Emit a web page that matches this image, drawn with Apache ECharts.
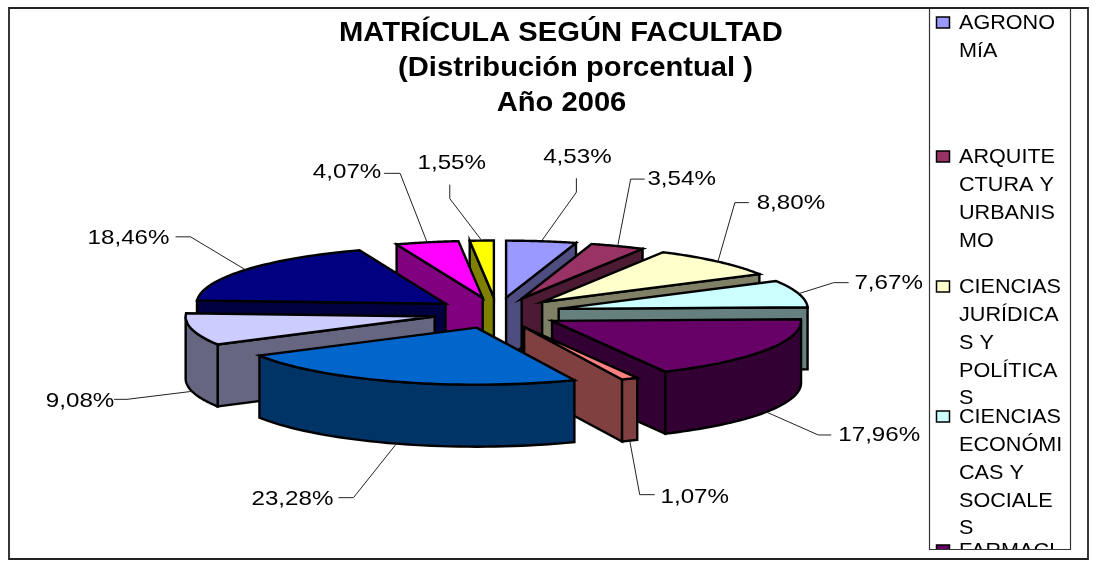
<!DOCTYPE html>
<html><head><meta charset="utf-8">
<style>html,body{margin:0;padding:0;background:#fff}#c{width:1096px;height:562px}</style>
<script src="https://cdn.jsdelivr.net/npm/echarts@6/dist/echarts.min.js"></script>
</head><body><div id="c"></div>
<script>
const categories = ['AGRONOMÍA','ARQUITECTURA Y URBANISMO','CIENCIAS JURÍDICAS Y POLÍTICAS','CIENCIAS ECONÓMICAS Y SOCIALES','FARMACIA','FILOSOFÍA','DERECHO','INGENIERÍA','MEDICINA','ODONTOLOGÍA','QUÍMICA'];
const values = [4.53,3.54,8.80,7.67,17.96,1.07,23.28,9.08,18.46,4.07,1.55];
const valueLabels = ['4,53%','3,54%','8,80%','7,67%','17,96%','1,07%','23,28%','9,08%','18,46%','4,07%','1,55%'];
const topColors = ['#9999FF','#993366','#FFFFCC','#CCFFFF','#660066','#FF8080','#0066CC','#CCCCFF','#000080','#FF00FF','#FFFF00'];
const wallColors = ['#4D4D80','#4D1A33','#808066','#668080','#330033','#804040','#003366','#666680','#000040','#800080','#808000'];
const legendLines = [['AGRONO','MíA'],['ARQUITE','CTURA Y','URBANIS','MO'],['CIENCIAS','JURÍDICA','S Y','POLÍTICA','S'],['CIENCIAS','ECONÓMI','CAS Y','SOCIALE','S'],['FARMACI','A']];
const titleLines = ['MATRÍCULA SEGÚN FACULTAD','(Distribución porcentual )','Año 2006'];

// layout of the projected pie
const CX=497, CY=313, RX=249, RY=57, DEPTH=62, EXPX=64, EXPY=15.5;
// leader layout, relative to the rim point at each slice's middle: elbow dx,dy, then stub dx,dy, then label centre dx,dy
const leaderLayout = [
 [35,-49, 35,-63, 36,-84],
 [13,-67, 27,-67, 64,-67],
 [17,-59, 31,-59, 73,-58],
 [35,-11, 50,-11, 90,-10],
 [52,23, 65,23, 113,23],
 [10,54, 25,54, 65,57],
 [-43,54, -58,54, -104,56],
 [-65,8, -78,8, -112,10],
 [-55,-33, -70,-33, -117,-32],
 [-27,-69, -43,-69, -80,-70],
 [-32,-42, -32,-56, -30,-77]
];
const titleLayout = [[561,34],[575.5,69],[561.5,104]];

const total = values.reduce((a,b)=>a+b,0);
let acc = 0;
const rows = values.map((v,i)=>{const s=acc/total*360; acc+=v; const e=acc/total*360; return [s,e,v,i];});
const backness = r=>{const m=(r[0]+r[1])/2; return Math.min(m,360-m);};
rows.sort((a,b)=>backness(a)-backness(b));

const rad=d=>d*Math.PI/180;
function renderItem(params,api){
  const s=api.value(0), e=api.value(1), i=api.value(3), m=(s+e)/2;
  const ax=CX+EXPX*Math.sin(rad(m)), ay=CY-EXPY*Math.cos(rad(m));
  const rim=a=>[ax+RX*Math.sin(rad(a)), ay-RY*Math.cos(rad(a))];
  const down=p=>[p[0],p[1]+DEPTH];
  const st={stroke:'#000',lineWidth:2.4,lineJoin:'miter'};
  const kids=[];
  const poly=(pts,fill)=>kids.push({type:'polygon',shape:{points:pts},style:Object.assign({fill},st)});
  const wall=a=>{const p=rim(a);poly([[ax,ay],p,down(p),[ax,ay+DEPTH]],wallColors[i]);};
  if(Math.sin(rad(s))<-1e-6) wall(s);
  if(Math.sin(rad(e))>1e-6) wall(e);
  const a0=Math.max(s,90), a1=Math.min(e,270);
  if(a1>a0){
    const up=[]; for(let a=a0;a<=a1+1e-6;a+=(a1-a0)/40) up.push(rim(a));
    poly(up.concat(up.slice().reverse().map(down)),wallColors[i]);
  }
  const top=[[ax,ay]]; for(let a=s;a<=e+1e-6;a+=(e-s)/40) top.push(rim(a));
  poly(top,topColors[i]);
  const p=rim(m); const anchor=Math.cos(rad(m))<0?down(p):p;
  const L=leaderLayout[i];
  kids.push({type:'polyline',z2:50,shape:{points:[anchor,[anchor[0]+L[0],anchor[1]+L[1]],[anchor[0]+L[2],anchor[1]+L[3]]]},style:{stroke:'#222',lineWidth:1,fill:null}});
  kids.push({type:'text',z2:51,x:anchor[0]+L[4],y:anchor[1]+L[5],scaleX:1.15,style:{text:valueLabels[i],fill:'#000',font:'21px "Liberation Sans"',align:'center',verticalAlign:'middle'}});
  return {type:'group',children:kids};
}

const LEG_X=[930,1071], LEG_Y=[8,549], FRAME=[9,8,1088,559];
const legendGaps=[134,130,130,134];
const legendEls=[];
titleLines.forEach((t,i)=>{
  legendEls.push({type:'text',x:titleLayout[i][0],y:titleLayout[i][1],scaleX:1.08,z:10,silent:true,
    style:{text:t,font:'bold 27px "Liberation Sans"',fill:'#000',textAlign:'center',textVerticalAlign:'middle'}});
});
let ly=23;
legendLines.forEach((lines,i)=>{
  legendEls.push({type:'rect',shape:{x:936.5,y:ly-6,width:13,height:11},style:{fill:topColors[i],stroke:'#000',lineWidth:1.5},z:10});
  legendEls.push({type:'text',x:959,y:ly-13,scaleX:1.08,silent:true,z:10,
    style:{text:lines.join('\n'),font:'20px "Liberation Sans"',lineHeight:27.75,fill:'#000',textAlign:'left',textVerticalAlign:'top'}});
  ly+=legendGaps[i]||0;
});
legendEls.push({type:'rect',shape:{x:LEG_X[0],y:LEG_Y[1],width:LEG_X[1]-LEG_X[0],height:FRAME[3]-LEG_Y[1]-2},style:{fill:'#fff'},z:11});
legendEls.push({type:'rect',shape:{x:LEG_X[0]-.5,y:LEG_Y[0]+.5,width:LEG_X[1]-LEG_X[0],height:LEG_Y[1]-LEG_Y[0]},style:{fill:'none',stroke:'#333',lineWidth:1.2},z:12});
legendEls.push({type:'rect',shape:{x:FRAME[0],y:FRAME[1],width:FRAME[2]-FRAME[0],height:FRAME[3]-FRAME[1]},style:{fill:'none',stroke:'#222',lineWidth:1.8},z:12});

const chart=echarts.init(document.getElementById('c'),null,{renderer:'canvas'});
chart.setOption({
  animation:false,
  backgroundColor:'#fff',
  graphic:{elements:legendEls},
  series:[{type:'custom',coordinateSystem:'none',renderItem,data:rows,silent:true,z:2}]
});
</script></body></html>
